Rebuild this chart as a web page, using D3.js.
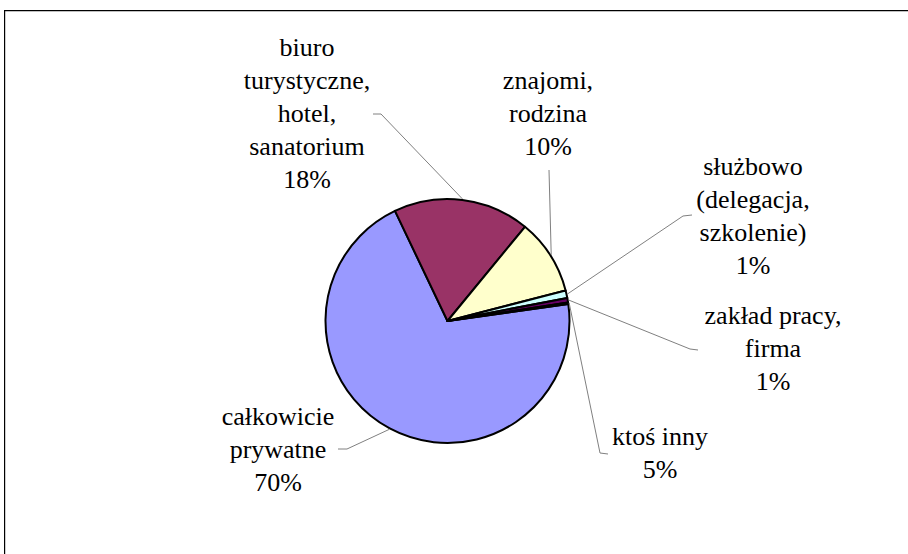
<!DOCTYPE html>
<html>
<head>
<meta charset="utf-8">
<script src="https://cdn.jsdelivr.net/npm/d3@7"></script>
<style>
  html, body { margin: 0; padding: 0; background: #fff; }
  svg { display: block; }
</style>
</head>
<body>
<svg id="chart" width="908" height="554"></svg>
<script>
// Categories (in drawing order, clockwise)
const categories = [
  "całkowicie prywatne",
  "biuro turystyczne, hotel, sanatorium",
  "znajomi, rodzina",
  "służbowo (delegacja, szkolenie)",
  "zakład pracy, firma",
  "ktoś inny"
];
// Slice shares (%)
const shares = [70, 18, 10, 1, 0.6, 0.2];
// Percentage labels as printed
const percentLabels = ["70%", "18%", "10%", "1%", "1%", "5%"];
// Label text lines (name lines, percentage appended below)
const labelLines = [
  ["całkowicie", "prywatne"],
  ["biuro", "turystyczne,", "hotel,", "sanatorium"],
  ["znajomi,", "rodzina"],
  ["służbowo", "(delegacja,", "szkolenie)"],
  ["zakład pracy,", "firma"],
  ["ktoś inny"]
];
const colors = ["#9999FF", "#993366", "#FFFFCC", "#CCFFFF", "#660066", "#FF8080"];

// Layout
const W = 908, H = 554;
const cx = 447.5, cy = 321, R = 122;
const lineH = 33;
const deg = Math.PI / 180;
const startDeg = 82;
const FONT = "'Liberation Serif', 'Times New Roman', Times, 'DejaVu Serif', serif";

// Label block placement: centre x, first baseline y,
// and leader start/elbow points
const labelLayout = [
  { x: 278, y: 425, lead: [[338, 449], [347, 449]] },
  { x: 307, y: 56,  lead: [[373, 114], [381, 114]] },
  { x: 548, y: 89,  lead: [[549, 170], [549, 170]] },
  { x: 753, y: 175, lead: [[692, 215], [683, 216]] },
  { x: 773, y: 324, lead: [[698, 350], [690, 349]] },
  { x: 660, y: 445, lead: [[608, 454], [600, 453]] }
];

const svg = d3.select("#chart");

// Frame
svg.append("path")
  .attr("d", `M4.6,${H + 5} L4.6,10.6 L${W + 5},10.6`)
  .attr("fill", "none")
  .attr("stroke", "#000")
  .attr("stroke-width", 1.2);

const data = categories.map((c, i) => ({ name: c, value: shares[i], i }));

const pie = d3.pie()
  .sort(null)
  .value(d => d.value)
  .startAngle(startDeg * deg)
  .endAngle(startDeg * deg + 2 * Math.PI);

const arcs = pie(data);
const arc = d3.arc().innerRadius(0).outerRadius(R);

const g = svg.append("g").attr("transform", `translate(${cx},${cy})`);

// Leader lines (drawn under the slices)
const leaders = svg.append("g");
arcs.forEach((a, i) => {
  const mid = (a.startAngle + a.endAngle) / 2;
  const end = [cx + Math.sin(mid) * (R + 1), cy - Math.cos(mid) * (R + 1)];
  const pts = [...labelLayout[i].lead, end];
  leaders.append("path")
    .attr("d", d3.line()(pts))
    .attr("fill", "none")
    .attr("stroke", "#808080")
    .attr("stroke-width", 1);
});

g.selectAll("path.slice")
  .data(arcs)
  .join("path")
  .attr("class", "slice")
  .attr("d", arc)
  .attr("fill", d => colors[d.data.i])
  .attr("stroke", "#000")
  .attr("stroke-width", 2)
  .attr("stroke-linejoin", "round");

// Labels
const labels = svg.append("g");
labelLines.forEach((lines, i) => {
  const L = labelLayout[i];
  const all = [...lines, percentLabels[i]];
  const t = labels.append("text")
    .attr("text-anchor", "middle")
    .attr("font-family", FONT)
    .attr("font-size", 26)
    .attr("fill", "#000");
  all.forEach((s, k) => {
    t.append("tspan")
      .attr("x", L.x)
      .attr("y", L.y + k * lineH)
      .text(s);
  });
});
</script>
</body>
</html>
